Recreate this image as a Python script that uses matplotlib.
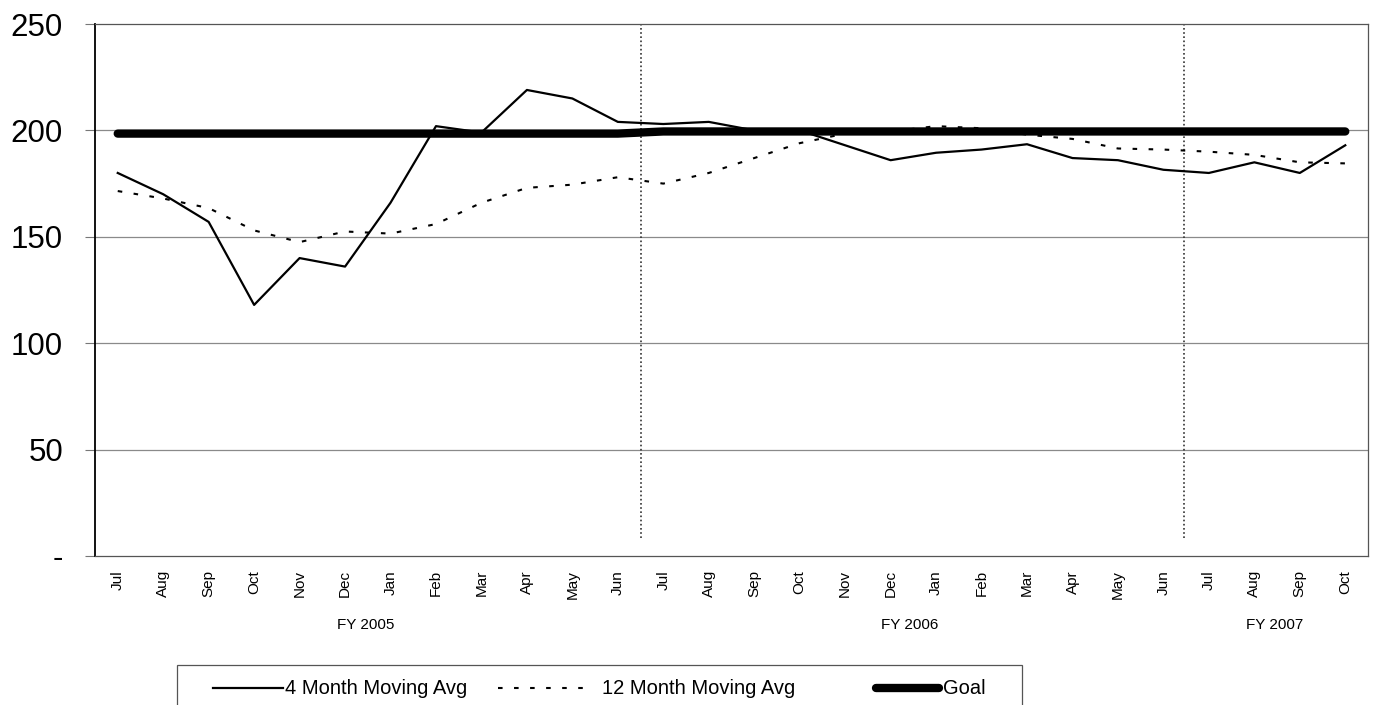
import matplotlib
matplotlib.use("Agg")
import matplotlib.pyplot as plt
from matplotlib.lines import Line2D
from matplotlib.patches import Rectangle

plt.rcParams['font.family'] = ['Liberation Sans', 'DejaVu Sans']

months = ["Jul", "Aug", "Sep", "Oct", "Nov", "Dec", "Jan", "Feb", "Mar", "Apr", "May", "Jun",
          "Jul", "Aug", "Sep", "Oct", "Nov", "Dec", "Jan", "Feb", "Mar", "Apr", "May", "Jun",
          "Jul", "Aug", "Sep", "Oct"]
avg4 = [180, 170, 157, 118, 140, 136, 166, 202, 199, 219, 215, 204,
        203, 204, 200, 200, 193, 186, 189.5, 191, 193.5, 187, 186, 181.5,
        180, 185, 180, 193]
avg12 = [171.5, 168, 163.5, 153, 147.5, 152.5, 151.5, 156, 166, 173, 174.5, 178,
         175, 180, 187, 194, 198.5, 199.5, 202, 201, 198, 196, 191.5, 191,
         190, 188.5, 185, 184.5]
goal = [198.5] * 12 + [199.5] * 16
fy_labels = ["FY 2005", "FY 2006", "FY 2007"]
fy_pos = [5.45, 17.42, 25.45]
fy_dividers = [11.5, 23.45]
yticks = [0, 50, 100, 150, 200, 250]
ytick_labels = ["-", "50", "100", "150", "200", "250"]
legend_labels = ["4 Month Moving Avg", "12 Month Moving Avg", "Goal"]

fig = plt.figure(figsize=(13.77, 7.05), dpi=100)
ax = fig.add_axes([95 / 1377, 1 - 556 / 705, (1368 - 95) / 1377, (556 - 24) / 705])

x = list(range(len(months)))
ax.set_xlim(-0.5, len(months) - 0.5)
ax.set_ylim(0, 250)

for yv in yticks[1:-1]:
    ax.axhline(yv, color="#8a8a8a", lw=0.9, zorder=1)

for xv in fy_dividers:
    ax.plot([xv, xv], [8.5, 250], color="#333333", lw=1.2, linestyle=(0, (1, 1.5)), zorder=2)

ax.plot(x, goal, color="black", lw=6, solid_capstyle="round", zorder=3)
ax.plot(x, avg12, color="black", lw=1.5, linestyle=(0, (2.2, 5.5)), zorder=4)
ax.plot(x, avg4, color="black", lw=1.6, zorder=5)

ax.set_yticks(yticks)
ax.set_yticklabels(ytick_labels, fontsize=22.5)
ax.tick_params(axis="y", length=7, width=0.8, color="#777777", pad=16)
ax.set_xticks(x)
ax.set_xticklabels(months, rotation=90, fontsize=11, va="top")
ax.tick_params(axis="x", length=0, pad=10)

for sp in ["top", "right", "bottom"]:
    ax.spines[sp].set_color("#555555")
    ax.spines[sp].set_linewidth(0.9)
ax.spines["left"].set_color("black")
ax.spines["left"].set_linewidth(1.3)

for lab, pos in zip(fy_labels, fy_pos):
    ax.text(pos, -0.13, lab, transform=ax.get_xaxis_transform(), ha="center", va="center", fontsize=11)

# legend box
W, H = 1377, 705
fig.add_artist(Rectangle((177 / W, 1 - 720 / H), (1022 - 177) / W, 55 / H,
                         transform=fig.transFigure, fill=False, edgecolor="#555555", lw=0.9))
ly = 1 - 688 / H
fig.add_artist(Line2D([213 / W, 283 / W], [ly, ly], transform=fig.transFigure, color="black", lw=1.6))
fig.text(285 / W, ly, legend_labels[0], fontsize=14.5, va="center", ha="left")
fig.add_artist(Line2D([498 / W, 592 / W], [ly, ly], transform=fig.transFigure, color="black", lw=1.5,
                      linestyle=(0, (2.2, 5.5))))
fig.text(602 / W, ly, legend_labels[1], fontsize=14.5, va="center", ha="left")
fig.add_artist(Line2D([876 / W, 939 / W], [ly, ly], transform=fig.transFigure, color="black", lw=6,
                      solid_capstyle="round"))
fig.text(943 / W, ly, legend_labels[2], fontsize=14.5, va="center", ha="left")

fig.savefig("out.png", dpi=100)
